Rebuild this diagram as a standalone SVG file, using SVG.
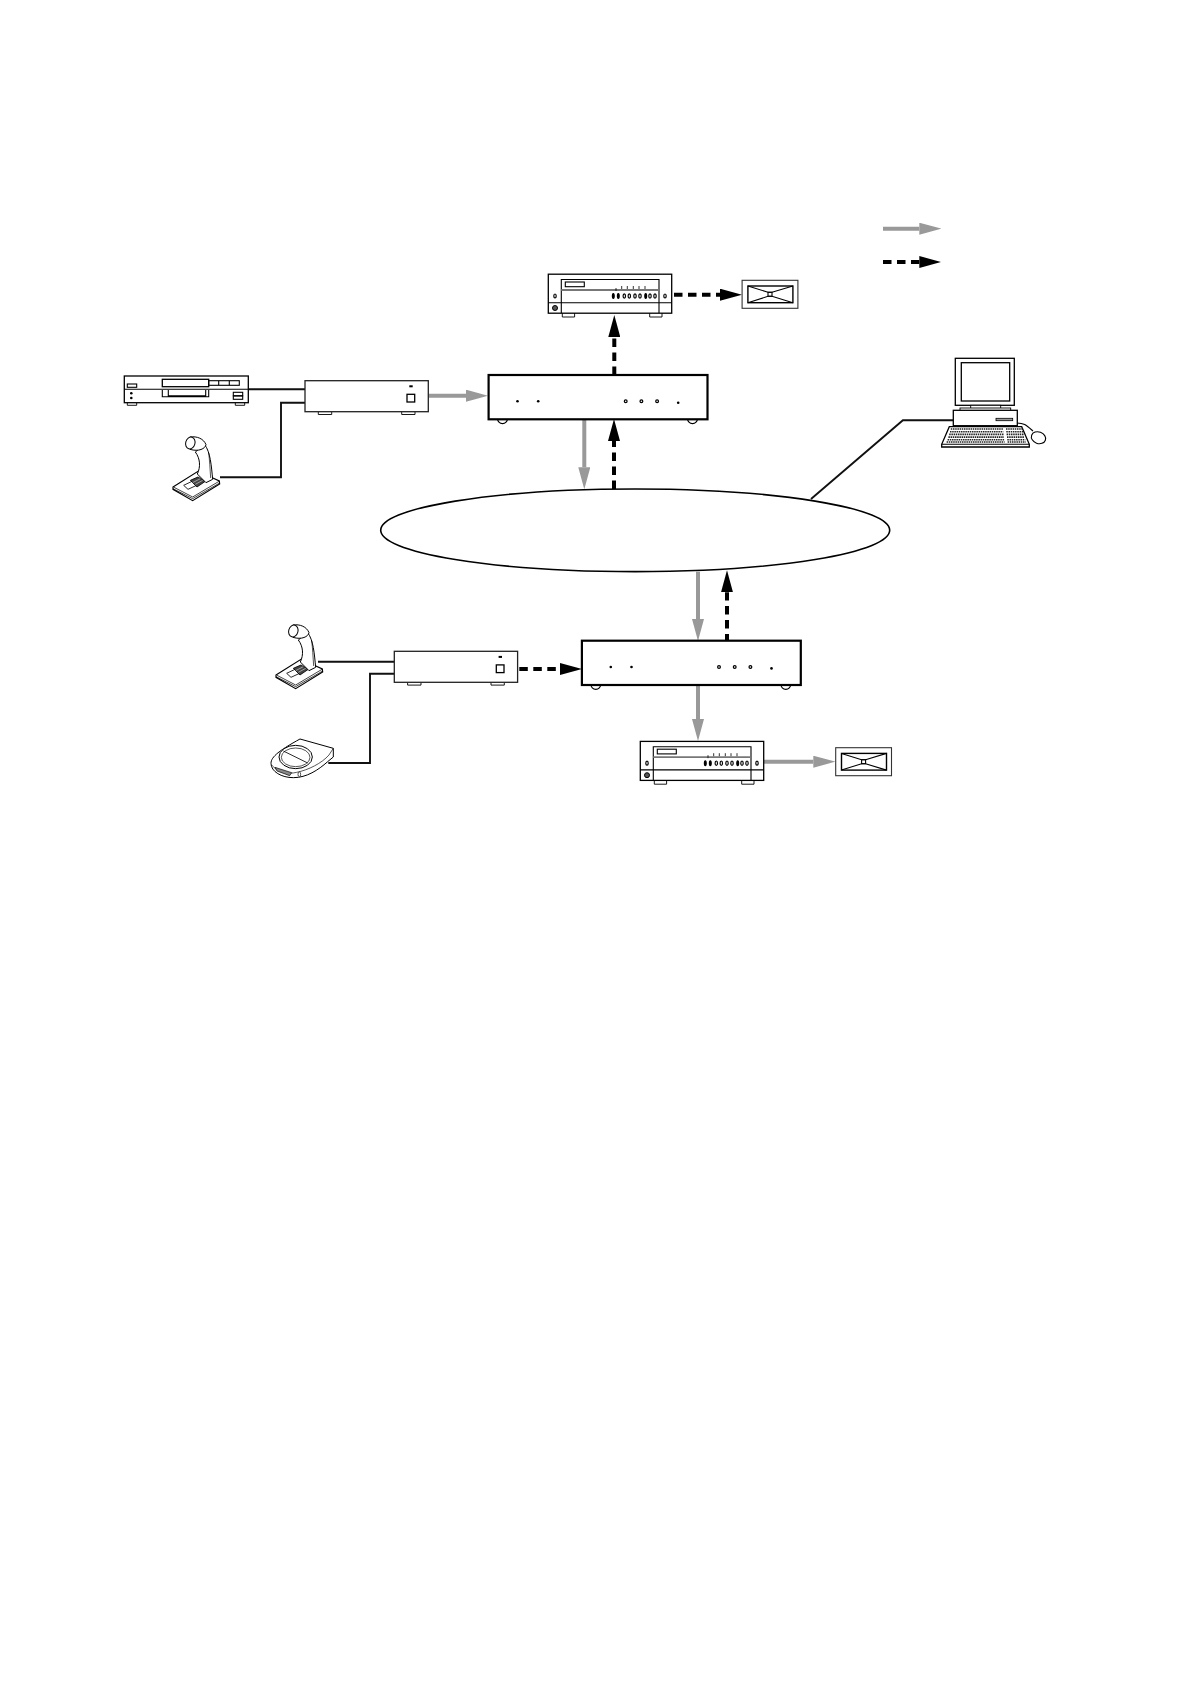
<svg xmlns="http://www.w3.org/2000/svg" xmlns:xlink="http://www.w3.org/1999/xlink" width="1190" height="1684" viewBox="0 0 1190 1684">
<style>
.o{fill:#fff;stroke:#000;stroke-width:1.3}
.n{fill:none;stroke:#000;stroke-width:1.1}
.t{fill:#fff;stroke:#000;stroke-width:.9}
.sw{fill:#fff;stroke:#000;stroke-width:2.2}
.sb{fill:#fff;stroke:#222;stroke-width:1.3}
.w{fill:none;stroke:#111;stroke-width:1.9}
.g{fill:none;stroke:#999;stroke-width:4}
.gh{marker-end:url(#gh)}
.b{fill:none;stroke:#000;stroke-width:4;stroke-dasharray:8.5 5.5;marker-end:url(#bh)}
.dot{fill:#000}
.ring{fill:#fff;stroke:#000;stroke-width:1.2}
.k{fill:none;stroke:#222;stroke-width:1.6;stroke-dasharray:1.5 .7}
</style>
<defs>
<marker id="gh" markerUnits="userSpaceOnUse" markerWidth="22" markerHeight="12" viewBox="0 0 22 12" refX="0" refY="6" orient="auto"><path d="M0 0L22 6L0 12Z" fill="#999"/></marker>
<marker id="bh" markerUnits="userSpaceOnUse" markerWidth="22" markerHeight="12" viewBox="0 0 22 12" refX="0" refY="6" orient="auto"><path d="M0 0L22 6L0 12Z" fill="#000"/></marker>
<g id="amp">
<path class="t" d="M562.3 313v4h12.3v-4M662 313v4h-12.3v-4"/>
<rect class="o" x="548.3" y="274.2" width="123.4" height="39"/>
<path class="n" d="M548.3 302.7H671.7M561.3 313V279.5H659V313"/>
<rect class="n" x="565.3" y="282" width="19" height="4.7"/>
<path d="M561.3 290H659" stroke="#777" stroke-width="1.8" fill="none"/>
<path d="M616 291v-3M621.7 289v-3M627.3 289v-3M633.3 289v-3M639 289v-3M645 289v-3" stroke="#000" stroke-width=".8" fill="none"/>
<g fill="#fff" stroke="#000" stroke-width="1.2"><ellipse cx="555" cy="296" rx="1.2" ry="2"/><ellipse cx="665" cy="296" rx="1.2" ry="2"/><ellipse cx="613.3" cy="296" rx=".9" ry="2.4" fill="#000"/><ellipse cx="618.3" cy="296" rx=".9" ry="2.4" fill="#000"/><ellipse cx="624.3" cy="296" rx="1.2" ry="2.2"/><ellipse cx="629.3" cy="296" rx="1.2" ry="2.2"/><ellipse cx="635" cy="296" rx="1.2" ry="2.2"/><ellipse cx="640" cy="296" rx="1.2" ry="2.2"/><ellipse cx="645.7" cy="296" rx=".9" ry="2.4" fill="#000"/><ellipse cx="650" cy="296" rx="1.2" ry="2.2"/><ellipse cx="655" cy="296" rx="1.2" ry="2.2"/></g>
<circle cx="555" cy="308" r="2.5" fill="#555" stroke="#000" stroke-width="1"/>
</g>
<g id="spk">
<rect x="742.1" y="280.3" width="55.8" height="28" fill="#fff" stroke="#333" stroke-width="1.1"/>
<rect x="747.9" y="286" width="45" height="16.7" fill="none" stroke="#000" stroke-width="1.4"/>
<path class="n" d="M747.9 286L768 292.3H772L792.9 286M747.9 302.7L768 296.3H772L792.9 302.7"/>
<rect class="n" x="768" y="292.3" width="4" height="4"/>
</g>
<g id="sbox">
<path class="t" d="M318.3 411.7v2.8h13.4v-2.8M401.7 411.7v2.8H415v-2.8"/>
<rect class="sb" x="305" y="380.7" width="123.3" height="31"/>
<rect x="409.3" y="385.3" width="3.4" height="2" fill="#000"/>
<rect class="o" x="407" y="394.3" width="7.7" height="7.7"/>
</g>
<g id="sw">
<path class="ring" d="M497.5 418a5 5 0 0 0 10 0M687.5 418a5 5 0 0 0 10 0" transform="translate(0 .6)"/>
<rect class="sw" x="488.6" y="375" width="218.9" height="44.3"/>
<circle class="dot" cx="517.5" cy="401.3" r="1.3"/>
<circle class="dot" cx="538.2" cy="401.3" r="1.3"/>
<circle class="ring" cx="625.7" cy="401.3" r="1.4"/>
<circle class="ring" cx="641.4" cy="401.3" r="1.4"/>
<circle class="ring" cx="657.1" cy="401.3" r="1.4"/>
<circle class="dot" cx="678.2" cy="402.7" r="1.3"/>
</g>
<g id="mic" transform="translate(162 432) scale(.3333)">
<path d="M33 165L108 118L172 147L173 156L92 206L33 172Z" fill="#fff" stroke="#000" stroke-width="3.5"/>
<path d="M36 166L92 195L171 148M33 170L92 200L173 153" fill="none" stroke="#000" stroke-width="2.2"/>
<path d="M65 160L90 148L104 160L78 172Z" fill="#fff" stroke="#000" stroke-width="2.5"/>
<path d="M85 145L108 135L130 148L105 165Z" fill="#444" stroke="#000" stroke-width="2.5"/>
<path d="M92 152L115 140M100 157L122 145" stroke="#fff" stroke-width="1.5" fill="none"/>
<path d="M106 126C116 105 115 80 100 60L128 38C145 60 148 100 152 142L132 152Z" fill="#fff" stroke="#000" stroke-width="3"/>
<path d="M140 62C143 85 144 110 146 138" fill="none" stroke="#000" stroke-width="2"/>
<path d="M84 15C105 12 125 20 132 38C130 50 110 60 84 52Z" fill="#fff" stroke="#000" stroke-width="3"/>
<ellipse cx="85" cy="33" rx="14" ry="18" transform="rotate(15 85 33)" fill="#fff" stroke="#000" stroke-width="3"/>
</g>
</defs>
<rect width="1190" height="1684" fill="#fff"/>
<g id="connectors">
<path class="w" d="M248.3 389.3H305M220 477.3H281V402.7H305M318 661.8H394.3M328.3 763H370V673.7H394.3M811 499L902.9 420.3H953.3"/>
<path class="g gh" d="M883 228.7H919.3"/>
<path class="b" d="M883 262H919.3"/>
<path class="g gh" d="M428.3 395.7H466"/>
<path class="b" d="M674 294.7H720" stroke-dasharray="8.5 5.5 8.5 5.5 8.5 20"/>
<path class="b" d="M614.3 375V337"/>
<path class="g gh" d="M584.3 419.3V467.3"/>
<path class="b" d="M614 489V441"/>
<path class="g gh" d="M698 571.7V619"/>
<path class="b" d="M727 640.7V592.3" style="stroke-dashoffset:1.8"/>
<path class="g gh" d="M698 685V719"/>
<path class="g gh" d="M763.7 761.7H813.3"/>
<path class="b" d="M519.3 669H560"/>
</g>
<g id="cd-player">
<path class="t" d="M127.3 402.7v2.6h9.4v-2.6M235.3 402.7v2.6h9.4v-2.6"/>
<rect class="o" x="124.3" y="376" width="124" height="26.7"/>
<path class="n" d="M124.3 389.3H248.3"/>
<rect class="n" x="127.3" y="384" width="9.4" height="3.3"/>
<rect class="o" x="162.3" y="379.3" width="46.4" height="7.4"/>
<rect class="n" x="208.7" y="380.7" width="30.6" height="4.6"/>
<path class="n" d="M218.7 380.7v4.6M229.3 380.7v4.6"/>
<path class="n" d="M162.3 390v6.7H208.7V390M168.3 390v5.7H205.7V390"/>
<circle cx="131.3" cy="393.3" r="1.3" fill="#000"/>
<circle cx="131.3" cy="398" r="1.3" fill="#000"/>
<rect class="n" x="233.3" y="392.3" width="9.4" height="3.4"/>
<rect class="n" x="233.3" y="396" width="9.4" height="3.3"/>
</g>
<g id="mic-1"><use xlink:href="#mic" href="#mic"/></g>
<g id="source-box-1"><use xlink:href="#sbox" href="#sbox"/></g>
<g id="switch-1"><use xlink:href="#sw" href="#sw"/></g>
<g id="amp-1"><use xlink:href="#amp" href="#amp"/></g>
<g id="speaker-1"><use xlink:href="#spk" href="#spk"/></g>
<g id="network"><ellipse cx="635.2" cy="530.3" rx="254.5" ry="41.3" fill="none" stroke="#000" stroke-width="1.6"/></g>
<g id="computer">
<path d="M1017 423C1024 423 1026 425 1033 431" fill="none" stroke="#000" stroke-width="1.2"/>
<ellipse cx="1038.5" cy="437.7" rx="7.3" ry="5.8" transform="rotate(20 1038.5 437.7)" fill="#fff" stroke="#000" stroke-width="1.1"/>
<rect class="o" x="955.3" y="358.3" width="59" height="47"/>
<rect class="o" x="961.3" y="362.7" width="48.4" height="38.3"/>
<rect class="t" x="970.7" y="405.3" width="30" height="3.4"/>
<rect class="t" x="960" y="408" width="50.7" height="3"/>
<rect class="o" x="953.3" y="410.3" width="64" height="15.4"/>
<rect x="996" y="418.3" width="16.7" height="2.4" fill="#999" stroke="#000" stroke-width=".8"/>
<path class="o" d="M949.3 426.7H1021.7L1029.3 444.3V447H941.7V444.3Z"/>
<path class="n" d="M941.7 444.3H1029.3"/>
<path class="k" d="M950.8 429H1003M950 431.7H1003.3M949.2 434.4H1003.6M948.4 437.1H1004M947.6 439.8H1004.3M946.6 442H1004.6M1006 429H1023M1006.3 431.7H1023.5M1006.6 434.4H1024M1007 437.1H1024.6M1007.3 439.8H1025.3M1007.6 442H1025.8"/>
</g>
<g id="mic-2"><use xlink:href="#mic" href="#mic" transform="translate(103 188)"/></g>
<g id="footswitch" transform="translate(265 735) scale(.3333)">
<path d="M105 12L205 40V66L188 80C160 105 125 128 85 128C50 128 18 110 18 85C18 65 45 45 105 12Z" fill="#fff" stroke="#000" stroke-width="3"/>
<path d="M20 90C40 115 70 118 95 112C130 105 170 85 192 60L205 40" fill="none" stroke="#000" stroke-width="2"/>
<ellipse cx="92" cy="66" rx="50" ry="35" fill="#fff" stroke="#000" stroke-width="3"/>
<ellipse cx="92" cy="67" rx="43" ry="28" fill="none" stroke="#000" stroke-width="2"/>
<path d="M55 48L128 84" fill="none" stroke="#000" stroke-width="2.5"/>
<path d="M30 97L80 113L74 122L36 108Z" fill="#888" stroke="#000" stroke-width="2"/>
<ellipse cx="103" cy="118" rx="4" ry="7" fill="#fff" stroke="#000" stroke-width="2"/>
</g>
<g id="source-box-2"><use xlink:href="#sbox" href="#sbox" transform="translate(89.3 270.6)"/></g>
<g id="switch-2"><use xlink:href="#sw" href="#sw" transform="translate(93.3 265.7)"/></g>
<g id="amp-2"><use xlink:href="#amp" href="#amp" transform="translate(92 467.2)"/></g>
<g id="speaker-2"><use xlink:href="#spk" href="#spk" transform="translate(93.6 467.4)"/></g>
</svg>
